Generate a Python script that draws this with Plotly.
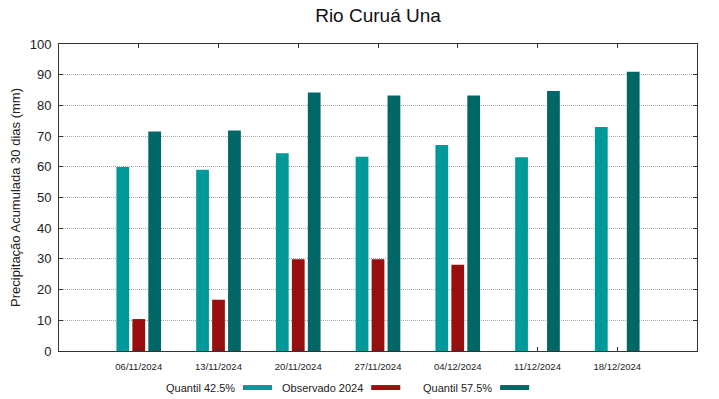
import plotly.graph_objects as go

categories = ["06/11/2024", "13/11/2024", "20/11/2024", "27/11/2024",
              "04/12/2024", "11/12/2024", "18/12/2024"]
quantil_425 = [59.9, 59.0, 64.4, 63.3, 67.1, 63.1, 73.0]
observado_2024 = [10.4, 16.7, 29.9, 29.9, 28.1, None, None]
quantil_575 = [71.5, 71.8, 84.2, 83.2, 83.2, 84.7, 91.0]

series_names = ["Quantil 42.5%", "Observado 2024", "Quantil 57.5%"]
series_values = [quantil_425, observado_2024, quantil_575]
series_colors = ["#009999", "#990e0e", "#006666"]

FONT = "Liberation Sans, Arial, sans-serif"

fig = go.Figure()
for name, vals, col in zip(series_names, series_values, series_colors):
    fig.add_trace(go.Bar(x=categories, y=vals, name=name,
                         marker=dict(color=col, line=dict(width=0)),
                         showlegend=False))

# legend built as text + swatches (text before swatch, as in reference)
legend_text_x = [0.279, 0.480, 0.682]   # paper coords, right edge of text
shapes = []
annotations = []
for i, (name, col) in enumerate(zip(series_names, series_colors)):
    xr = legend_text_x[i]
    annotations.append(dict(text=name, xref="paper", yref="paper",
                            x=xr, y=-0.119, xanchor="right", yanchor="middle",
                            showarrow=False, font=dict(size=11, color="#222", family=FONT)))
    shapes.append(dict(type="rect", xref="paper", yref="paper",
                       x0=xr + 0.0094, x1=xr + 0.0549, y0=-0.127, y1=-0.111,
                       fillcolor=col, line=dict(width=0)))

fig.update_layout(
    width=719, height=399,
    margin=dict(l=59, r=22, t=44, b=48),
    paper_bgcolor="white", plot_bgcolor="white",
    font=dict(family=FONT, color="#222"),
    title=dict(text="Rio Curuá Una", x=0.5, xref="paper", y=0.962, yanchor="middle",
               font=dict(size=19, family=FONT, color="#111")),
    barmode="group", bargap=0.4, bargroupgap=0.2,
    shapes=shapes, annotations=annotations,
)
fig.update_xaxes(type="category", range=[-1, 7], showline=True, linecolor="#333",
                 linewidth=1, mirror="ticks", ticks="inside", ticklen=4,
                 tickcolor="#333", showgrid=False, automargin=False,
                 tickfont=dict(size=9.5, family=FONT, color="#222"),
                 ticklabelstandoff=7)
fig.update_yaxes(range=[0, 100], dtick=10, showline=True, linecolor="#333",
                 linewidth=1, mirror="ticks", ticks="inside", ticklen=4,
                 tickcolor="#333", showgrid=True, gridcolor="#aaaaaa",
                 griddash="1px,1px", gridwidth=1, zeroline=False, automargin=False,
                 tickfont=dict(size=13, family=FONT, color="#222"),
                 ticklabelstandoff=4,
                 title=dict(text="Precipitação Acumulada 30 dias (mm)",
                            font=dict(size=13, family=FONT, color="#222"),
                            standoff=6))

fig.write_html("out.html", config={"displayModeBar": False},
               post_script="document.body.style.margin='0';document.body.style.overflow='hidden';")
